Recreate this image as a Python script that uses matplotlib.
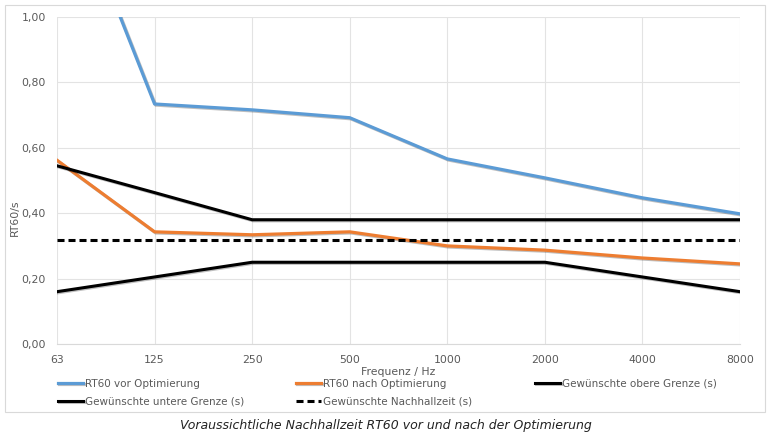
import matplotlib
matplotlib.use("Agg")
import matplotlib.pyplot as plt
import matplotlib.patheffects as pe
from matplotlib.patches import Rectangle

freqs = ["63", "125", "250", "500", "1000", "2000", "4000", "8000"]
rt60_vor = [1.49, 0.734, 0.716, 0.692, 0.566, 0.508, 0.447, 0.398]
rt60_nach = [0.562, 0.343, 0.334, 0.343, 0.300, 0.287, 0.263, 0.245]
obere_grenze = [0.545, 0.463, 0.38, 0.38, 0.38, 0.38, 0.38, 0.38]
untere_grenze = [0.16, 0.205, 0.25, 0.25, 0.25, 0.25, 0.205, 0.16]
nachhallzeit = [0.318] * 8

plt.rcParams['font.family'] = ['DejaVu Sans']
grey = '#595959'
W, H = 771, 436

fig = plt.figure(figsize=(W/100, H/100), dpi=100)
ax = fig.add_axes([57/W, 1 - 344/H, (740-57)/W, (344-17)/H])

x = list(range(len(freqs)))
shadow = [pe.SimpleLineShadow(offset=(0.8, -0.8), alpha=0.25), pe.Normal()]
l1, = ax.plot(x, rt60_vor, color='#5b9bd5', lw=2.3, label='RT60 vor Optimierung', path_effects=shadow)
l2, = ax.plot(x, rt60_nach, color='#ed7d31', lw=2.3, label='RT60 nach Optimierung', path_effects=shadow)
l3, = ax.plot(x, obere_grenze, color='black', lw=2.2, label='Gewünschte obere Grenze (s)', path_effects=shadow)
l4, = ax.plot(x, untere_grenze, color='black', lw=2.2, label='Gewünschte untere Grenze (s)', path_effects=shadow)
l5, = ax.plot(x, nachhallzeit, color='black', lw=2.2, ls=(0, (2.3, 1.3)), label='Gewünschte Nachhallzeit (s)')

ax.set_xlim(0, len(freqs) - 1)
ax.set_ylim(0, 1.0)
ax.set_xticks(x)
ax.set_xticklabels(freqs)
yt = [0, 0.2, 0.4, 0.6, 0.8, 1.0]
ax.set_yticks(yt)
ax.set_yticklabels([f"{v:.2f}".replace('.', ',') for v in yt])
ax.grid(True, color='#e3e3e3', lw=0.8)
ax.set_axisbelow(True)
for s in ['top', 'right', 'left']:
    ax.spines[s].set_visible(False)
ax.spines['bottom'].set_color('#d9d9d9')
ax.tick_params(length=0, colors=grey, labelsize=7.8, pad=8)
ax.set_xlabel('Frequenz / Hz', color=grey, fontsize=7.8, labelpad=1)
ax.yaxis.set_label_coords(15/W, 1 - 190/H, transform=fig.transFigure)
ax.set_ylabel('RT60/s', color=grey, fontsize=7.8, va='center')

# legend in three fixed columns like Excel
for handles, x0 in [([l1, l4], 58), ([l2, l5], 296), ([l3], 535)]:
    leg = fig.legend(handles=handles, loc='upper left', bbox_to_anchor=(x0/W, 1 - 379/H),
                     frameon=False, fontsize=7.5, handlelength=2.4, handletextpad=0.15,
                     labelspacing=0.75, borderpad=0, borderaxespad=0)
    for t in leg.get_texts():
        t.set_color(grey)

fig.patches.append(Rectangle((5/W, 1 - 412/H), 760/W, 407/H, transform=fig.transFigure,
                             fill=False, edgecolor='#d9d9d9', lw=0.8))
fig.text(0.5, 1 - 425/H, 'Voraussichtliche Nachhallzeit RT60 vor und nach der Optimierung',
         ha='center', va='center', fontsize=9, style='italic', color='#222222')

fig.savefig('out.png', dpi=100)
